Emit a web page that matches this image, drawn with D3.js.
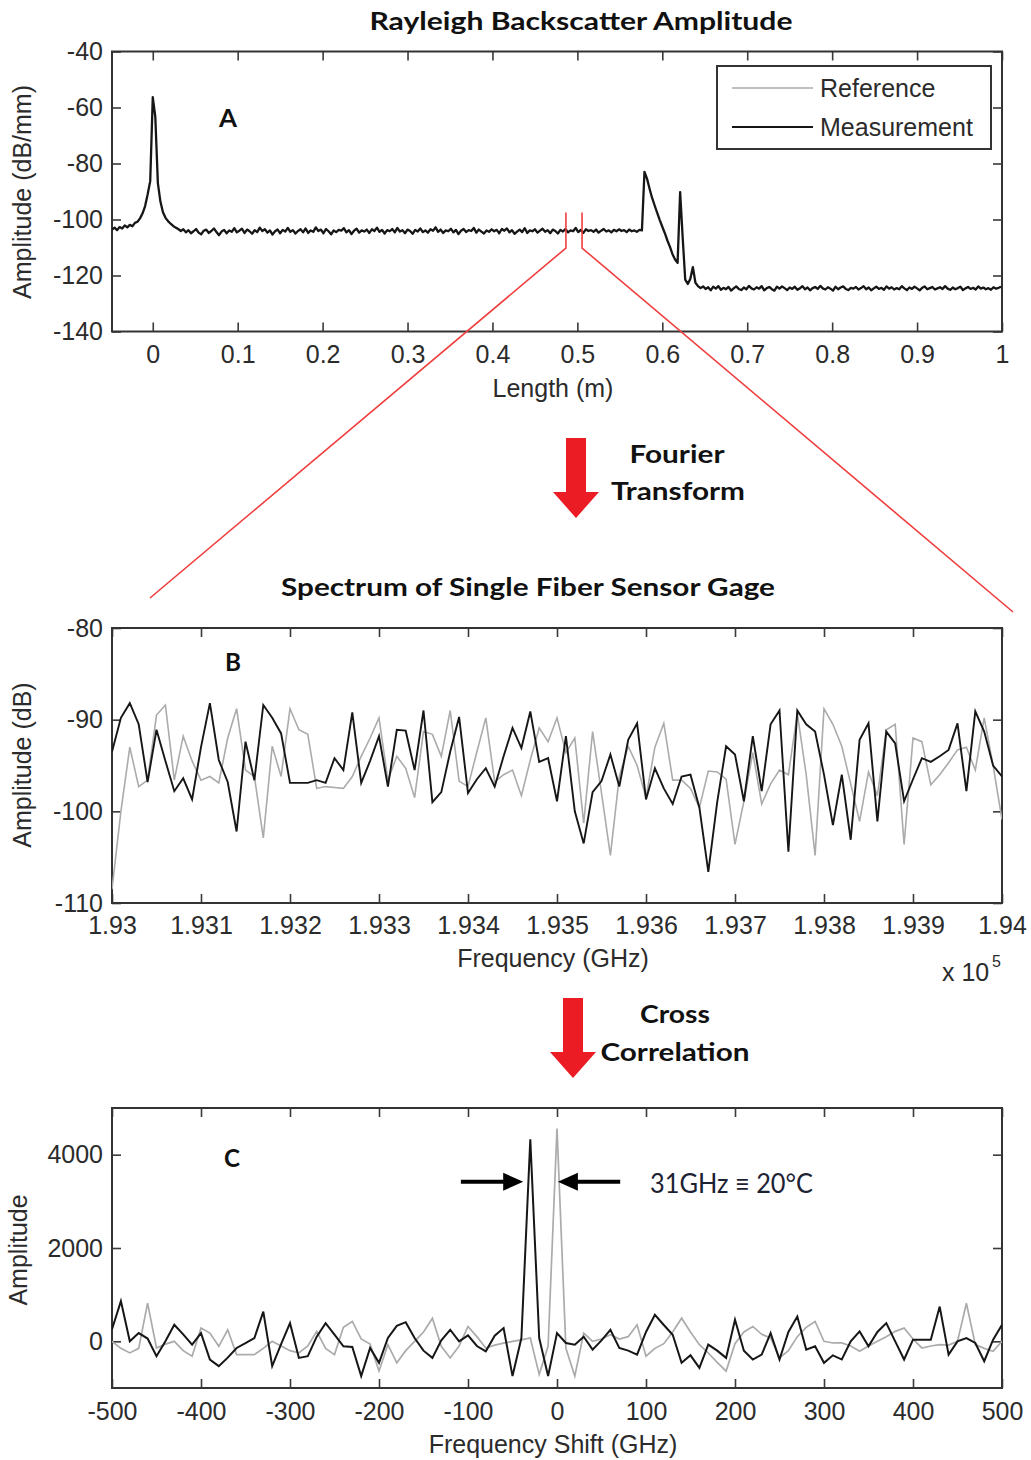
<!DOCTYPE html>
<html>
<head>
<meta charset="utf-8">
<script src="https://cdn.jsdelivr.net/npm/d3@7"></script>
<style>
  body { margin: 0; background: #fff; }
  svg { display: block; }
  .tick text, .lbl { font-family: "Liberation Sans", Arial, sans-serif; font-size: 25px; fill: #2b2b2b; }
  .bold { font-family: Lato, "Open Sans", sans-serif; font-weight: bold; fill: #111; }
</style>
</head>
<body>
<svg id="fig" width="1031" height="1460"></svg>
<script>
// ---------- data ----------
// A: backscatter amplitude (dB/mm), sampled every 3 mm from -0.048 m
var lengthStart = -0.048, lengthStep = 0.003;
var backscatterDb = [
  -103.6,-102.9,-103.8,-102.7,-103.2,-102.1,-102.8,-101.9,-102.4,-101.2,
  -100.8,-99.6,-97.8,-95.2,-91.0,-86.3,-56.3,-63.4,-87.0,-93.6,
  -97.4,-99.4,-100.6,-101.5,-102.3,-102.9,-103.4,-104.1,-103.5,-104.6,
  -103.8,-104.9,-104.2,-103.4,-104.7,-105.3,-104.0,-103.6,-104.8,-104.1,
  -103.2,-104.5,-105.6,-104.3,-103.7,-104.9,-103.9,-104.4,-103.1,-104.6,
  -104.0,-103.3,-104.8,-103.6,-104.2,-105.1,-103.8,-104.5,-102.9,-104.1,
  -103.5,-104.7,-103.9,-105.4,-104.2,-103.6,-104.9,-103.7,-104.3,-103.0,
  -104.4,-103.8,-105.0,-104.1,-103.5,-104.6,-103.2,-104.8,-103.9,-104.4,
  -102.8,-104.1,-103.6,-104.9,-103.4,-104.2,-105.3,-103.9,-104.5,-103.7,
  -104.0,-103.1,-104.6,-103.8,-105.2,-104.0,-103.3,-104.7,-103.9,-104.3,
  -103.6,-104.8,-103.5,-104.1,-102.9,-104.4,-103.7,-105.0,-103.8,-104.2,
  -103.4,-104.6,-103.0,-104.3,-103.8,-104.9,-103.6,-104.1,-105.1,-103.7,
  -104.3,-103.2,-104.5,-103.9,-104.7,-103.5,-104.0,-102.8,-104.4,-103.6,
  -104.8,-103.9,-104.2,-103.3,-104.6,-103.7,-105.2,-104.0,-103.4,-104.5,
  -103.8,-104.1,-103.0,-104.7,-103.6,-104.3,-105.0,-103.9,-104.4,-103.5,
  -104.2,-103.7,-104.9,-103.4,-104.0,-103.2,-104.6,-103.8,-105.1,-104.3,
  -103.6,-104.5,-103.1,-104.8,-103.9,-104.2,-103.5,-104.7,-104.0,-103.3,
  -104.4,-103.8,-104.9,-103.6,-104.1,-105.0,-103.7,-104.3,-103.4,-104.6,
  -103.9,-104.2,-103.0,-104.5,-103.7,-104.8,-103.5,-104.1,-103.8,-104.4,
  -103.6,-104.7,-104.0,-103.4,-104.3,-103.9,-104.6,-103.7,-104.2,-103.5,
  -104.1,-103.8,-104.5,-103.6,-104.2,-103.9,-104.4,-103.7,
  -103.9,-83.0,-85.4,-89.0,-92.3,-95.0,-97.6,-100.2,-102.6,-104.9,
  -107.5,-109.8,-112.4,-114.3,-115.5,-90.2,-106.5,-121.5,-123.0,-121.2,
  -117.0,-122.6,-123.8,-124.5,
  -123.9,-124.8,-124.2,-125.3,-124.0,-124.7,-123.8,-125.1,-124.4,-124.9,
  -124.1,-125.4,-124.6,-123.9,-124.8,-125.2,-124.3,-124.9,-123.7,-124.6,
  -125.0,-124.2,-124.7,-123.8,-125.3,-124.5,-124.1,-124.9,-125.4,-124.0,
  -124.7,-123.9,-124.5,-125.2,-124.3,-124.8,-124.0,-125.1,-124.6,-123.8,
  -124.9,-124.3,-125.3,-124.5,-124.1,-124.8,-123.7,-124.6,-125.0,-124.2,
  -124.7,-125.4,-124.0,-124.9,-124.3,-123.9,-124.8,-125.2,-124.4,-124.7,
  -124.1,-125.0,-124.5,-123.8,-124.9,-124.3,-125.3,-124.6,-124.0,-124.8,
  -124.4,-125.1,-123.9,-124.7,-124.2,-125.0,-124.5,-124.9,-123.8,-124.6,
  -125.2,-124.3,-124.8,-124.0,-124.6,-125.3,-124.4,-123.9,-124.9,-124.5,
  -124.1,-125.0,-124.6,-124.2,-124.8,-123.8,-124.7,-125.1,-124.3,-124.9,
  -124.5,-124.0,-125.2,-124.6,-124.1,-124.8,-124.4,-125.0,-123.9,-124.7,
  -124.3,-124.9,-124.5,-125.1,-124.2,-124.7,-124.4,-124.0
];
var zoomWindow = [0.4865, 0.5055];   // gage picked out of trace A
var zoomMarkDb = [-97.5, -110.2];

// B: spectrum (dB), x in units of 1e5 GHz, 10 GHz spacing
var freqStart = 1.93, freqStep = 0.0001;
var spectrumRef = [
  -108.5,-100.0,-93.0,-97.3,-96.6,-89.5,-88.4,-96.6,-91.8,-94.5,
  -96.6,-96.2,-96.9,-92.0,-88.8,-95.5,-96.2,-102.9,-92.9,-96.2,
  -88.8,-91.1,-91.6,-97.5,-97.3,-97.4,-97.5,-96.2,-94.0,-92.0,
  -89.8,-96.6,-94.0,-95.3,-98.5,-91.3,-91.6,-94.0,-89.0,-96.7,
  -97.3,-93.5,-89.8,-96.8,-96.0,-95.5,-98.3,-94.4,-90.9,-92.4,
  -89.8,-93.6,-92.0,-101.3,-91.3,-98.0,-104.8,-96.2,-92.9,-95.0,
  -98.5,-93.0,-90.4,-96.6,-96.6,-97.5,-99.6,-95.6,-95.7,-96.5,
  -103.6,-98.9,-93.6,-99.2,-97.0,-95.5,-96.0,-89.3,-96.0,-104.8,
  -88.8,-90.5,-92.9,-97.0,-101.1,-95.7,-98.3,-91.1,-90.5,-103.6,
  -92.0,-92.4,-97.1,-96.0,-94.7,-93.3,-93.0,-95.5,-89.8,-95.0,
  -100.9
];
var spectrumMeas = [
  -93.5,-89.8,-88.2,-90.5,-96.8,-91.1,-94.5,-97.8,-96.4,-98.7,
  -93.0,-88.2,-94.4,-96.8,-102.2,-92.4,-96.6,-88.4,-89.8,-91.5,
  -96.9,-96.9,-96.9,-96.6,-96.9,-94.2,-95.5,-89.2,-96.9,-94.5,
  -91.8,-97.3,-91.1,-91.2,-95.5,-89.0,-99.0,-97.9,-93.5,-89.7,
  -98.0,-96.5,-95.3,-97.3,-94.0,-90.9,-93.1,-89.1,-94.6,-94.2,
  -98.9,-91.8,-100.0,-103.5,-97.9,-96.7,-93.8,-97.3,-92.2,-90.4,
  -98.7,-95.3,-97.5,-99.2,-96.2,-96.0,-99.6,-106.6,-99.0,-92.9,
  -93.8,-98.9,-91.8,-97.8,-90.5,-89.0,-104.4,-89.0,-90.5,-91.3,
  -96.0,-101.5,-96.0,-103.1,-92.2,-90.4,-101.1,-91.3,-92.6,-98.9,
  -96.5,-94.2,-94.6,-94.0,-93.3,-90.4,-97.8,-89.1,-91.3,-95.0,
  -96.2
];

// C: cross correlation amplitude, shift in GHz, 10 GHz spacing
var shiftStart = -500, shiftStep = 10;
var corrRef = [
  0,-150,-248,-150,820,-142,-60,0,-200,-319,
  284,177,-106,248,-284,-284,-284,-150,0,-100,
  -200,-248,-100,213,-150,-284,300,426,50,-60,
  -638,-71,-461,-200,0,200,496,-106,-355,-100,
  319,100,-142,-80,-40,0,30,71,-709,-100,
  4560,-150,-745,177,0,50,142,50,100,355,
  -319,-150,-50,200,496,200,-71,-250,-450,-638,
  -50,200,319,150,71,-355,-200,100,300,426,
  0,-35,-35,-100,-213,-100,0,100,213,284,
  50,-142,-100,-71,-80,0,816,-71,-150,-213,
  0
];
var corrMeas = [
  260,862,0,177,60,-319,0,355,150,-71,
  177,-390,-532,-350,-142,-40,71,638,-532,-60,
  390,-355,-319,100,390,142,-106,-120,-745,-142,
  -461,71,330,411,71,-200,-355,20,248,0,
  128,-100,-213,120,284,-745,71,4330,71,-745,
  177,-35,-71,100,-177,20,248,-142,-200,-284,
  200,567,350,142,-461,-300,-567,-71,-200,-355,
  461,-200,-390,-284,177,-390,200,532,-177,-106,
  -461,-300,-390,0,213,-106,200,390,0,-390,
  35,35,35,745,-284,0,71,-35,-426,35,
  355
];

// ticks
var lengthTicks = [0,0.1,0.2,0.3,0.4,0.5,0.6,0.7,0.8,0.9,1];
var dbTicksA = [-40,-60,-80,-100,-120,-140];
var freqTicks = [1.93,1.931,1.932,1.933,1.934,1.935,1.936,1.937,1.938,1.939,1.94];
var dbTicksB = [-80,-90,-100,-110];
var shiftTicks = [-500,-400,-300,-200,-100,0,100,200,300,400,500];
var corrTicks = [0,2000,4000];

var refColor = "#ababab", measColor = "#161616";

var svg = d3.select("#fig");
svg.append("rect").attr("width",1031).attr("height",1460).attr("fill","#fff");

var left = 112, right = 1002;

function fmt(d){ return String(+d.toFixed(4)); }

//Draws a matlab style box with inward ticks on all four sides
function drawAxes(id, x, y, xt, yt, xlabPad){
  var top = y.range()[1], bottom = y.range()[0];
  var g = svg.append("g").attr("class","axes-" + id);
  g.append("g").attr("transform","translate(0," + bottom + ")")
    .call(d3.axisBottom(x).tickValues(xt).tickSize(-9).tickPadding(xlabPad).tickFormat(fmt));
  g.append("g").attr("transform","translate(0," + top + ")")
    .call(d3.axisTop(x).tickValues(xt).tickSize(-9).tickFormat(""));
  g.append("g").attr("transform","translate(" + left + ",0)")
    .call(d3.axisLeft(y).tickValues(yt).tickSize(-9).tickPadding(9).tickFormat(fmt));
  g.append("g").attr("transform","translate(" + right + ",0)")
    .call(d3.axisRight(y).tickValues(yt).tickSize(-9).tickFormat(""));
  g.selectAll(".domain").remove();
  g.selectAll(".tick line").attr("stroke","#3a3a3a").attr("stroke-width",1.6);
  g.selectAll(".tick text").attr("font-size",null).attr("font-family",null);
  g.selectAll("g").attr("font-size",null).attr("font-family",null);
  g.append("rect")
    .attr("x",left).attr("y",top)
    .attr("width",right-left).attr("height",bottom-top)
    .attr("fill","none").attr("stroke","#333").attr("stroke-width",2);
  return g;
}

function clip(id, x, y){
  svg.append("clipPath").attr("id","clip-" + id)
    .append("rect")
    .attr("x",left).attr("y",y.range()[1])
    .attr("width",right-left).attr("height",y.range()[0]-y.range()[1]);
  return "url(#clip-" + id + ")";
}

function series(x, y, start, step){
  return d3.line()
    .x(function(d,i){ return x(start + i*step); })
    .y(function(d){ return y(d); });
}

function boldText(txt, cx, by, size, len){
  svg.append("text").attr("class","bold")
    .attr("x",cx).attr("y",by)
    .attr("text-anchor","middle")
    .attr("font-size",size)
    .attr("textLength",len).attr("lengthAdjust","spacingAndGlyphs")
    .text(txt);
}

function yLabel(txt, cx, cy){
  svg.append("text").attr("class","lbl")
    .attr("text-anchor","middle")
    .attr("transform","translate(" + cx + "," + cy + ") rotate(-90)")
    .text(txt);
}

function xLabel(txt, cx, by){
  svg.append("text").attr("class","lbl")
    .attr("x",cx).attr("y",by)
    .attr("text-anchor","middle")
    .text(txt);
}

// ---------- panel A ----------
var xA = d3.scaleLinear().domain([-0.048, 1]).range([left, right]);
var yA = d3.scaleLinear().domain([-140, -40]).range([331.5, 51.5]);

boldText("Rayleigh Backscatter Amplitude", 581, 30, 25, 423);
drawAxes("a", xA, yA, lengthTicks, dbTicksA, 14);

svg.append("path")
  .datum(backscatterDb)
  .attr("clip-path", clip("a", xA, yA))
  .attr("d", series(xA, yA, lengthStart, lengthStep))
  .attr("fill","none").attr("stroke",measColor).attr("stroke-width",2.3)
  .attr("stroke-linejoin","round");

boldText("A", 228, 127, 25, 18);
yLabel("Amplitude (dB/mm)", 31, 192);
xLabel("Length (m)", 553, 397);

//Legend
var leg = svg.append("g");
leg.append("rect").attr("x",717).attr("y",66).attr("width",274).attr("height",83)
  .attr("fill","#fff").attr("stroke","#333").attr("stroke-width",2);
var legItems = [["Reference", refColor, 1.5, 88], ["Measurement", measColor, 2, 127]];
legItems.forEach(function(it){
  leg.append("line").attr("x1",732).attr("x2",813).attr("y1",it[3]).attr("y2",it[3])
    .attr("stroke",it[1]).attr("stroke-width",it[2]);
  leg.append("text").attr("class","lbl").attr("x",820).attr("y",it[3]+9).text(it[0]);
});

// ---------- panel B ----------
var xB = d3.scaleLinear().domain([1.93, 1.94]).range([left, right]);
var yB = d3.scaleLinear().domain([-110, -80]).range([903, 628]);

boldText("Spectrum of Single Fiber Sensor Gage", 528, 596, 25, 494);
drawAxes("b", xB, yB, freqTicks, dbTicksB, 13);
var clipB = clip("b", xB, yB);

svg.append("path").datum(spectrumRef)
  .attr("clip-path", clipB)
  .attr("d", series(xB, yB, freqStart, freqStep))
  .attr("fill","none").attr("stroke",refColor).attr("stroke-width",1.6);
svg.append("path").datum(spectrumMeas)
  .attr("clip-path", clipB)
  .attr("d", series(xB, yB, freqStart, freqStep))
  .attr("fill","none").attr("stroke",measColor).attr("stroke-width",1.9);

boldText("B", 233, 671, 25, 16);
yLabel("Amplitude (dB)", 31, 765);
xLabel("Frequency (GHz)", 553, 967);
svg.append("text").attr("class","lbl").attr("x",942).attr("y",981).text("x 10");
svg.append("text").attr("class","lbl").attr("x",992).attr("y",967).style("font-size","16px").text("5");

// ---------- panel C ----------
var xC = d3.scaleLinear().domain([-500, 500]).range([left, right]);
var yC = d3.scaleLinear().domain([-1000, 5000]).range([1388, 1108]);

drawAxes("c", xC, yC, shiftTicks, corrTicks, 14);
var clipC = clip("c", xC, yC);

svg.append("path").datum(corrRef)
  .attr("clip-path", clipC)
  .attr("d", series(xC, yC, shiftStart, shiftStep))
  .attr("fill","none").attr("stroke",refColor).attr("stroke-width",1.7);
svg.append("path").datum(corrMeas)
  .attr("clip-path", clipC)
  .attr("d", series(xC, yC, shiftStart, shiftStep))
  .attr("fill","none").attr("stroke",measColor).attr("stroke-width",2);

boldText("C", 232, 1167, 25, 16);
yLabel("Amplitude", 27, 1250);
xLabel("Frequency Shift (GHz)", 553, 1453);

//Shift arrows
var arrowY = yC(3420);
function blackArrow(fromX, toX){
  var dir = toX > fromX ? 1 : -1;
  svg.append("line").attr("x1",fromX).attr("x2",toX - dir*14)
    .attr("y1",arrowY).attr("y2",arrowY)
    .attr("stroke","#000").attr("stroke-width",4);
  svg.append("path")
    .attr("d","M" + toX + "," + arrowY + "L" + (toX - dir*20) + "," + (arrowY-9) +
              "L" + (toX - dir*20) + "," + (arrowY+9) + "Z")
    .attr("fill","#000");
}
blackArrow(xC(-108), xC(-38));
blackArrow(xC(71), xC(1));
svg.append("text")
  .attr("x",650).attr("y",1193)
  .attr("font-family","Lato, 'Open Sans', sans-serif").attr("font-size",26)
  .attr("fill","#1d2233")
  .attr("textLength",163).attr("lengthAdjust","spacingAndGlyphs")
  .text("31GHz \u2261 20\u00B0C");

// ---------- zoom lines and red arrows ----------
var redLine = "#ef3e3e";
var zx0 = xA(zoomWindow[0]), zx1 = xA(zoomWindow[1]);
var zy0 = yA(zoomMarkDb[0]), zy1 = yA(zoomMarkDb[1]);
svg.append("path")
  .attr("d","M" + zx0 + "," + zy0 + "L" + zx0 + "," + zy1 + "L150,598")
  .attr("fill","none").attr("stroke",redLine).attr("stroke-width",1.6);
svg.append("path")
  .attr("d","M" + zx1 + "," + zy0 + "L" + zx1 + "," + zy1 + "L1013,612")
  .attr("fill","none").attr("stroke",redLine).attr("stroke-width",1.6);

function redArrow(cx, y0, y1){
  var sw = 10, hw = 23, hh = 26;
  svg.append("path")
    .attr("d","M" + (cx-sw) + "," + y0 + "L" + (cx+sw) + "," + y0 +
              "L" + (cx+sw) + "," + (y1-hh) + "L" + (cx+hw) + "," + (y1-hh) +
              "L" + cx + "," + y1 + "L" + (cx-hw) + "," + (y1-hh) +
              "L" + (cx-sw) + "," + (y1-hh) + "Z")
    .attr("fill","#ec1c24");
}
redArrow(576, 438, 518);
boldText("Fourier", 677, 463, 25, 95);
boldText("Transform", 678, 500, 25, 134);

redArrow(573, 998, 1078);
boldText("Cross", 675, 1023, 25, 70);
boldText("Correlation", 675, 1061, 25, 149);
</script>
</body>
</html>
